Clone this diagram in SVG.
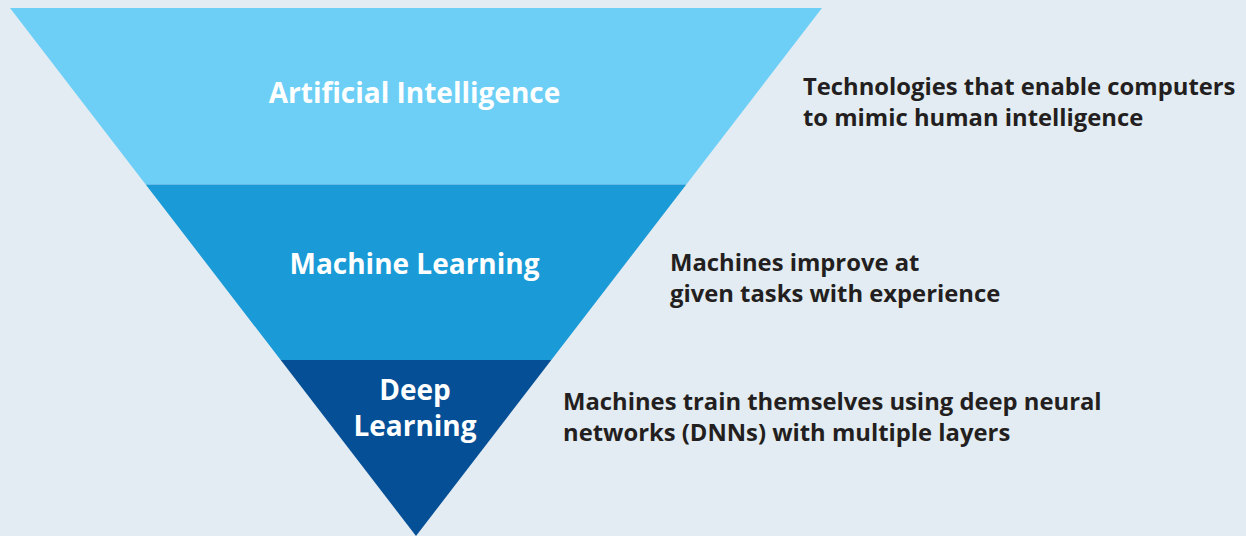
<svg xmlns="http://www.w3.org/2000/svg" width="1246" height="536" viewBox="0 0 1246 536">
<style>
.lbl{font-family:"Open Sans","Liberation Sans",sans-serif;font-weight:700;fill:#ffffff;font-size:28px;text-anchor:middle}
.desc{font-family:"Open Sans","Liberation Sans",sans-serif;font-weight:700;fill:#231f20;font-size:23.8px}
</style>
<rect width="1246" height="536" fill="#e3ecf2"/>
<g id="ai">
<polygon points="10,8 822,8 686.3,184.5 145.7,184.5" fill="#6dcff6"/>
<text class="lbl" x="414.5" y="103">Artificial Intelligence</text>
</g>
<g id="ml">
<polygon points="145.7,184.5 686.3,184.5 551.3,360 280.7,360" fill="#1a9ad6"/>
<text class="lbl" x="414.5" y="274">Machine Learning</text>
</g>
<g id="dl">
<polygon points="280.7,360 551.3,360 416,536" fill="#054f96"/>
<text class="lbl" x="415" y="400">Deep</text>
<text class="lbl" x="415" y="436">Learning</text>
</g>
<g id="desc-ai">
<text class="desc" x="803" y="95">Technologies that enable computers</text>
<text class="desc" x="803" y="126">to mimic human intelligence</text>
</g>
<g id="desc-ml">
<text class="desc" x="670" y="271">Machines improve at</text>
<text class="desc" x="670" y="302">given tasks with experience</text>
</g>
<g id="desc-dl">
<text class="desc" x="563" y="410">Machines train themselves using deep neural</text>
<text class="desc" x="563" y="441">networks (DNNs) with multiple layers</text>
</g>
<g id="connectors"/>
</svg>
